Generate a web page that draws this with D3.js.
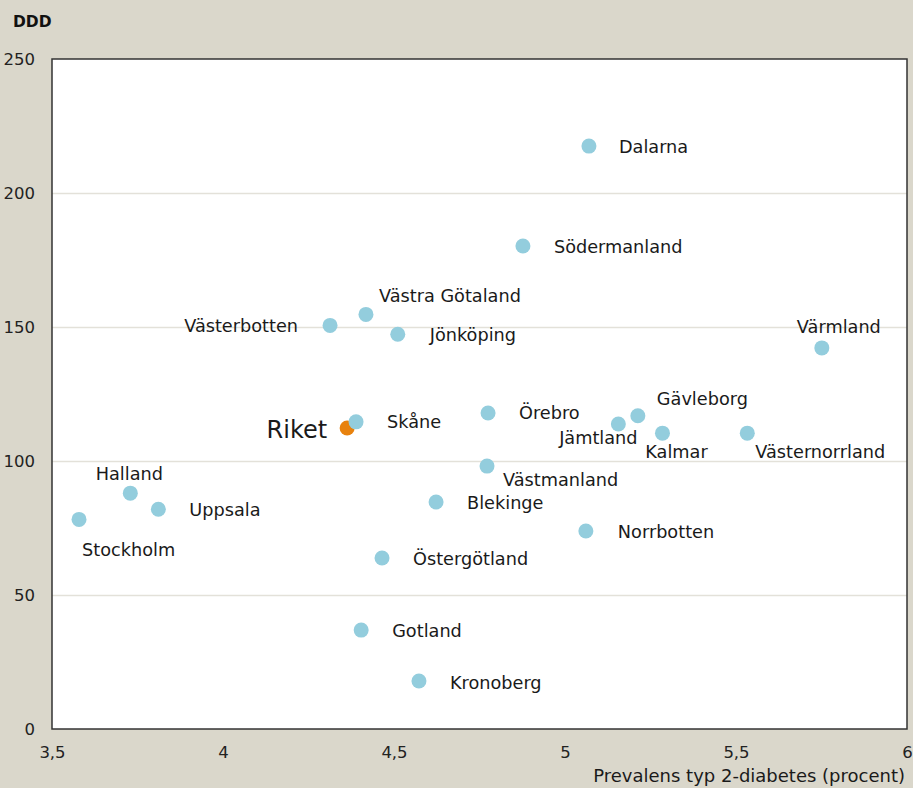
<!DOCTYPE html>
<html>
<head>
<meta charset="utf-8">
<script src="https://cdn.jsdelivr.net/npm/d3@7"></script>
<style>
  html, body { margin: 0; padding: 0; background: #dad7cb; }
  svg { display: block; font-family: "DejaVu Sans", sans-serif; }
</style>
</head>
<body>
<div id="chart"></div>
<script>
// regions (län) and their values
const regions = ["Dalarna", "Södermanland", "Västra Götaland", "Västerbotten", "Jönköping",
  "Värmland", "Örebro", "Gävleborg", "Jämtland", "Kalmar", "Västernorrland", "Skåne",
  "Västmanland", "Halland", "Uppsala", "Stockholm", "Blekinge", "Norrbotten",
  "Östergötland", "Gotland", "Kronoberg"];
// prevalence type 2 diabetes (percent)
const prevalence = [5.07, 4.877, 4.418, 4.313, 4.511, 5.751, 4.775, 5.213, 5.156, 5.285,
  5.533, 4.389, 4.772, 3.729, 3.811, 3.579, 4.623, 5.061, 4.465, 4.404, 4.573];
// DDD
const ddd = [217.5, 180.2, 154.7, 150.6, 147.3, 142.2, 117.9, 116.9, 113.8, 110.4,
  110.4, 114.6, 98.1, 88.0, 82.0, 78.2, 84.7, 73.9, 63.8, 36.9, 17.9];

const riket = {name: "Riket", prevalence: 4.363, ddd: 112.3};

const xTicks = [3.5, 4, 4.5, 5, 5.5, 6];
const yTicks = [0, 50, 100, 150, 200, 250];

// label placement around each dot (layout only)
const labelPos = {
  "Dalarna": [30, 1, "start"],
  "Södermanland": [31, 1, "start"],
  "Västra Götaland": [13, -19, "start"],
  "Västerbotten": [-32, 0, "end"],
  "Jönköping": [32, 1, "start"],
  "Värmland": [17, -21, "middle"],
  "Örebro": [31, 0, "start"],
  "Gävleborg": [19, -17, "start"],
  "Jämtland": [-20, 14, "middle"],
  "Kalmar": [14, 19, "middle"],
  "Västernorrland": [8, 19, "start"],
  "Skåne": [31, 0, "start"],
  "Västmanland": [16, 14, "start"],
  "Halland": [-1, -19, "middle"],
  "Uppsala": [31, 1, "start"],
  "Stockholm": [3, 30, "start"],
  "Blekinge": [31, 1, "start"],
  "Norrbotten": [32, 1, "start"],
  "Östergötland": [31, 1, "start"],
  "Gotland": [31, 1, "start"],
  "Kronoberg": [31, 2, "start"]
};

const data = regions.map((r, i) => ({name: r, prevalence: prevalence[i], ddd: ddd[i]}));

const W = 913, H = 788;
const margin = {top: 59, right: 6, bottom: 59, left: 52};
const width = W - margin.left - margin.right;
const height = H - margin.top - margin.bottom;
const comma = v => String(v).replace(".", ",");

const svg = d3.select("#chart").append("svg")
  .attr("width", W).attr("height", H);

svg.append("rect").attr("width", W).attr("height", H).attr("fill", "#dad7cb");

const g = svg.append("g").attr("transform", "translate(" + margin.left + "," + margin.top + ")");

const xScale = d3.scaleLinear().domain([3.5, 6]).range([0, width]);
const yScale = d3.scaleLinear().domain([0, 250]).range([height, 0]);

g.append("rect").attr("width", width).attr("height", height).attr("fill", "#ffffff");

// gridlines
g.append("g").attr("class", "grid")
  .call(d3.axisLeft(yScale).tickValues(yTicks.slice(1, -1)).tickSize(-width).tickFormat(""))
  .call(s => s.select(".domain").remove())
  .call(s => s.selectAll("line").attr("stroke", "#e3e1d9").attr("stroke-width", 1.3));

// axes labels
g.append("g").attr("transform", "translate(0," + height + ")")
  .call(d3.axisBottom(xScale).tickValues(xTicks).tickSize(0).tickPadding(17).tickFormat(comma))
  .call(s => s.select(".domain").remove())
  .call(s => s.selectAll("text").attr("font-size", 16.5).attr("fill", "#222")
    .attr("font-family", "DejaVu Sans, sans-serif"));

g.append("g")
  .call(d3.axisLeft(yScale).tickValues(yTicks).tickSize(0).tickPadding(17))
  .call(s => s.select(".domain").remove())
  .call(s => s.selectAll("text").attr("font-size", 16.5).attr("fill", "#222")
    .attr("font-family", "DejaVu Sans, sans-serif"));

// frame
g.append("rect").attr("width", width).attr("height", height)
  .attr("fill", "none").attr("stroke", "#333333").attr("stroke-width", 1.5);

// Riket first so Skåne draws over it
g.append("circle")
  .attr("cx", xScale(riket.prevalence)).attr("cy", yScale(riket.ddd))
  .attr("r", 7.5).attr("fill", "#e8820e");
g.append("text")
  .attr("x", xScale(riket.prevalence) - 20).attr("y", yScale(riket.ddd) + 2)
  .attr("dy", "0.35em").attr("text-anchor", "end")
  .attr("font-size", 24).attr("fill", "#1a1a1a").text(riket.name);

const dots = g.selectAll(".dotG").data(data).join("g")
  .attr("class", "dotG")
  .attr("transform", d => "translate(" + xScale(d.prevalence) + "," + yScale(d.ddd) + ")");

dots.append("circle").attr("r", 7.5).attr("fill", "#93cddd");

dots.append("text")
  .attr("x", d => labelPos[d.name][0])
  .attr("y", d => labelPos[d.name][1])
  .attr("dy", "0.35em")
  .attr("text-anchor", d => labelPos[d.name][2])
  .attr("font-size", 17.7).attr("fill", "#1a1a1a")
  .text(d => d.name);

// titles
svg.append("text").attr("x", 13).attr("y", 27)
  .attr("font-size", 15.5).attr("font-weight", "bold").attr("fill", "#111").text("DDD");

svg.append("text").attr("x", 905).attr("y", 782).attr("text-anchor", "end")
  .attr("font-size", 18).attr("fill", "#1a1a1a").text("Prevalens typ 2-diabetes (procent)");
</script>
</body>
</html>
